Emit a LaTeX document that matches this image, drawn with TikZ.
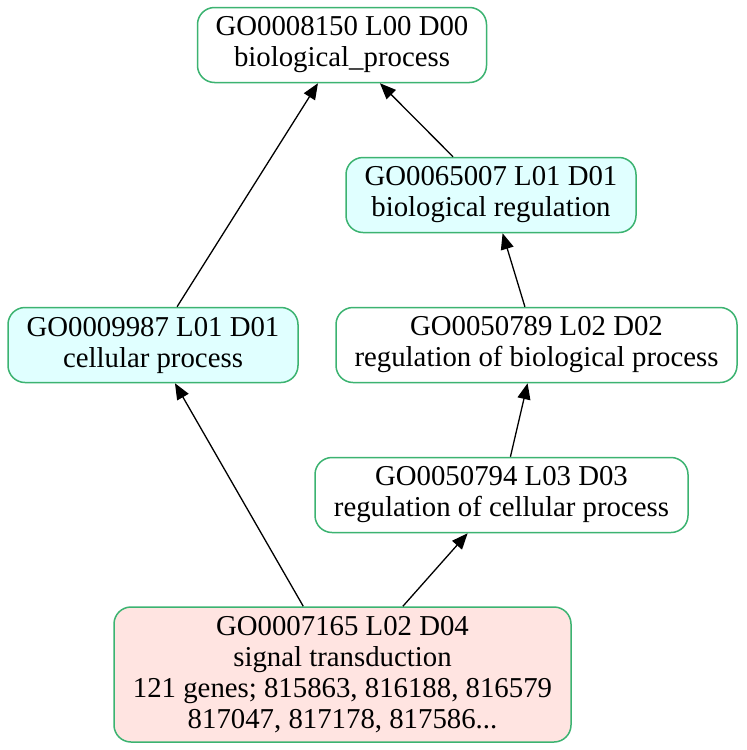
\documentclass[tikz,border=0pt]{standalone}
\usepackage{fontspec}
\setmainfont{Liberation Serif}
\usetikzlibrary{arrows.meta}
\definecolor{termline}{HTML}{3CB371}
\definecolor{termcyan}{HTML}{E0FFFF}
\definecolor{termpink}{HTML}{FFE4E1}

\begin{document}
\begin{tikzpicture}[x=0.5pt, y=-0.5pt,
	term/.style={draw=termline, line width=0.75pt, rounded corners=8.5pt,
		align=center, inner sep=0pt, minimum height=37.5pt,
		font=\fontsize{14.4}{15.5}\selectfont,
		execute at begin node={\rule{0pt}{14pt}}},
	>={Triangle[length=8pt, width=6.5pt]}]
		%\draw[help lines] (0,0) grid (746,750);
		\useasboundingbox (0,0) rectangle (746,750);
		
		\node[term, fill=white, minimum width=144.5pt] (t8150) at (342, 45)
		{GO0008150 L00 D00\\biological\_process};
		\node[term, fill=termcyan, minimum width=145pt] (t65007) at (491, 195)
		{GO0065007 L01 D01\\biological regulation};
		\node[term, fill=termcyan, minimum width=145pt] (t9987) at (153, 345)
		{GO0009987 L01 D01\\cellular process};
		\node[term, fill=white, minimum width=200.5pt] (t50789) at (536.5, 345)
		{GO0050789 L02 D02\\regulation of biological process};
		\node[term, fill=white, minimum width=186.5pt] (t50794) at (501.5, 495)
		{GO0050794 L03 D03\\regulation of cellular process};
		\node[term, fill=termpink, minimum width=228.5pt, minimum height=67.5pt] (t7165) at (342.5, 674.5)
		{GO0007165 L02 D04\\signal transduction\\121 genes; 815863, 816188, 816579\\817047, 817178, 817586...};
		
		\foreach \a\b in {9987/8150, 65007/8150, 50789/65007,
			50794/50789, 7165/9987, 7165/50794}
		\draw[->, line width=0.65pt] (t\a) -- (t\b);
		
	\end{tikzpicture}
\end{document}
